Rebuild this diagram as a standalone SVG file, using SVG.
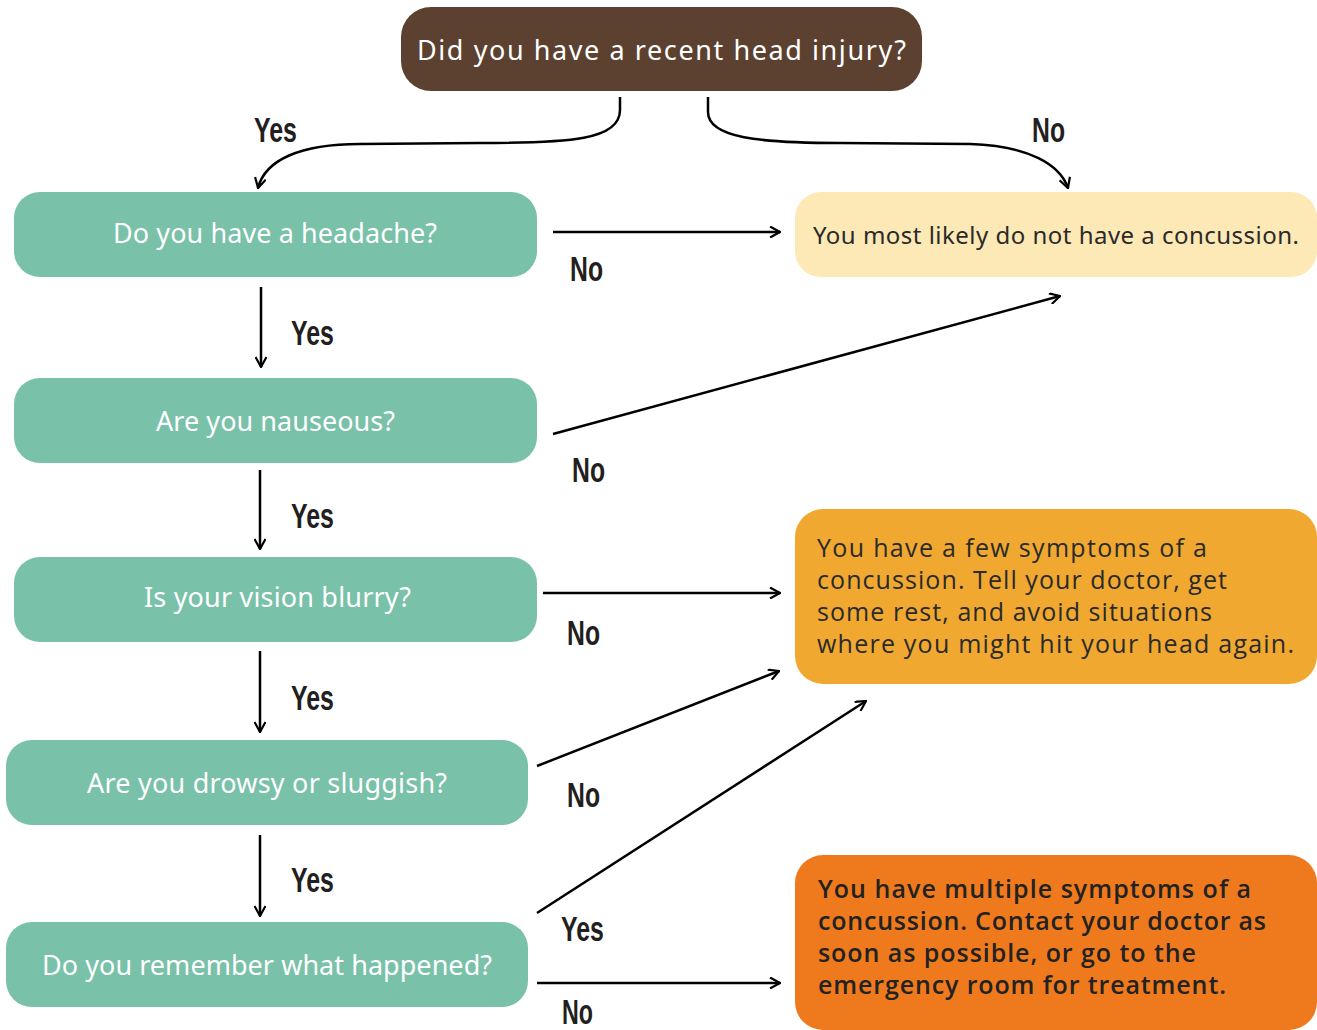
<svg xmlns="http://www.w3.org/2000/svg" width="1317" height="1030" viewBox="0 0 1317 1030">
<style>
.q{fill:#79C1A8}
.qt{font-family:"Noto Sans","Open Sans",sans-serif;font-size:27px;fill:#ffffff}
.yt{font-family:"Noto Sans","Open Sans",sans-serif;font-size:24px;fill:#2a2a2a}
.rt{font-family:"Open Sans","Noto Sans",sans-serif;font-size:25px;fill:#2a2a2a}
.lb{font-family:"Liberation Sans","DejaVu Sans",sans-serif;font-weight:bold;font-size:35px;fill:#231F20}
.c{fill:none;stroke:#000;stroke-width:2.5}
</style>
<defs>
<marker id="ah" viewBox="0 0 12 12" refX="11" refY="6" markerWidth="12" markerHeight="12" markerUnits="userSpaceOnUse" orient="auto">
<path d="M1,0.5 L11,6 L1,11.5" fill="none" stroke="#000" stroke-width="2.2"/>
</marker>
</defs>
<g id="n-start"><rect x="401" y="7" width="521" height="84" rx="30" fill="#5C4130"/><text class="qt" x="417" y="60" font-size="29" textLength="489" lengthAdjust="spacing">Did you have a recent head injury?</text></g>
<g id="n-headache"><rect class="q" x="14" y="192" width="523" height="85" rx="26"/><text class="qt" x="113" y="243" textLength="324" lengthAdjust="spacing">Do you have a headache?</text></g>
<g id="n-nauseous"><rect class="q" x="14" y="378" width="523" height="85" rx="26"/><text class="qt" x="156" y="431" textLength="239" lengthAdjust="spacing">Are you nauseous?</text></g>
<g id="n-vision"><rect class="q" x="14" y="557" width="523" height="85" rx="26"/><text class="qt" x="144" y="607" textLength="267" lengthAdjust="spacing">Is your vision blurry?</text></g>
<g id="n-drowsy"><rect class="q" x="6" y="740" width="522" height="85" rx="26"/><text class="qt" x="87" y="793" textLength="360" lengthAdjust="spacing">Are you drowsy or sluggish?</text></g>
<g id="n-remember"><rect class="q" x="6" y="922" width="522" height="85" rx="26"/><text class="qt" x="42" y="975" textLength="450" lengthAdjust="spacing">Do you remember what happened?</text></g>
<g id="n-none"><rect x="795" y="192" width="522" height="85" rx="26" fill="#FDE9B5"/><text class="yt" x="813" y="244" textLength="486" lengthAdjust="spacing">You most likely do not have a concussion.</text></g>
<g id="n-few"><rect x="795" y="509" width="522" height="175" rx="28" fill="#F0A830"/>
<text class="rt"><tspan x="817" y="557" textLength="390" lengthAdjust="spacing">You have a few symptoms of a</tspan><tspan x="817" y="589" textLength="410" lengthAdjust="spacing">concussion. Tell your doctor, get</tspan><tspan x="817" y="621" textLength="395" lengthAdjust="spacing">some rest, and avoid situations</tspan><tspan x="817" y="653" textLength="477" lengthAdjust="spacing">where you might hit your head again.</tspan></text></g>
<g id="n-multiple"><rect x="795" y="855" width="522" height="175" rx="28" fill="#EF7A1E"/>
<text class="rt" font-weight="600" style="fill:#222"><tspan x="818" y="898" textLength="433" lengthAdjust="spacing">You have multiple symptoms of a</tspan><tspan x="818" y="930" textLength="448" lengthAdjust="spacing">concussion. Contact your doctor as</tspan><tspan x="818" y="962" textLength="378" lengthAdjust="spacing">soon as possible, or go to the</tspan><tspan x="818" y="994" textLength="408" lengthAdjust="spacing">emergency room for treatment.</tspan></text></g>
<g id="connectors">
<path class="c" marker-end="url(#ah)" d="M620,97 L620,110 C620,140 570,143 480,143 L360,144 C300,144 265,160 258,188"/>
<path class="c" marker-end="url(#ah)" d="M708,97 L708,112 C708,138 760,143 840,143 L970,144 C1030,146 1060,165 1068,188"/>
<path class="c" marker-end="url(#ah)" d="M553,232 L780,232"/>
<path class="c" marker-end="url(#ah)" d="M261,287 L261,367"/>
<path class="c" marker-end="url(#ah)" d="M553,434 L1060,296"/>
<path class="c" marker-end="url(#ah)" d="M260,470 L260,549"/>
<path class="c" marker-end="url(#ah)" d="M543,593 L780,593"/>
<path class="c" marker-end="url(#ah)" d="M260,651 L260,732"/>
<path class="c" marker-end="url(#ah)" d="M537,766 L779,671"/>
<path class="c" marker-end="url(#ah)" d="M260,835 L260,916"/>
<path class="c" marker-end="url(#ah)" d="M537,913 L866,701"/>
<path class="c" marker-end="url(#ah)" d="M537,983 L780,983"/>
<g id="labels">
<text class="lb" x="254" y="142" textLength="43" lengthAdjust="spacingAndGlyphs">Yes</text>
<text class="lb" x="1032" y="142" textLength="33" lengthAdjust="spacingAndGlyphs">No</text>
<text class="lb" x="570" y="281" textLength="33" lengthAdjust="spacingAndGlyphs">No</text>
<text class="lb" x="291" y="345" textLength="43" lengthAdjust="spacingAndGlyphs">Yes</text>
<text class="lb" x="572" y="482" textLength="33" lengthAdjust="spacingAndGlyphs">No</text>
<text class="lb" x="291" y="528" textLength="43" lengthAdjust="spacingAndGlyphs">Yes</text>
<text class="lb" x="567" y="645" textLength="33" lengthAdjust="spacingAndGlyphs">No</text>
<text class="lb" x="291" y="710" textLength="43" lengthAdjust="spacingAndGlyphs">Yes</text>
<text class="lb" x="567" y="807" textLength="33" lengthAdjust="spacingAndGlyphs">No</text>
<text class="lb" x="291" y="892" textLength="43" lengthAdjust="spacingAndGlyphs">Yes</text>
<text class="lb" x="561" y="941" textLength="43" lengthAdjust="spacingAndGlyphs">Yes</text>
<text class="lb" x="562" y="1024" font-size="30" textLength="31" lengthAdjust="spacingAndGlyphs">No</text>
</g>
</g>
</svg>
